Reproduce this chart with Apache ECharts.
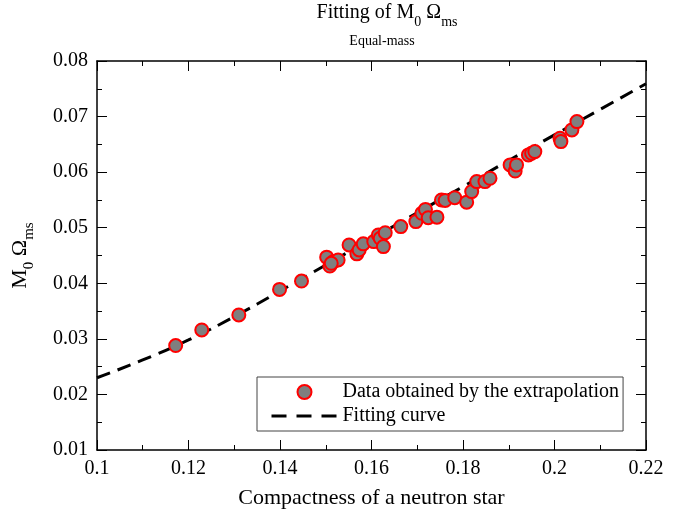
<!DOCTYPE html>
<html><head><meta charset="utf-8">
<script src="https://cdn.jsdelivr.net/npm/echarts@6/dist/echarts.min.js"></script>
<style>html,body{margin:0;padding:0;background:#fff}#c{width:694px;height:516px}</style>
</head><body><div id="c"></div>
<script>
// Data
const dataX = [0.1172,0.1229,0.1310,0.1399,0.1447,0.1502,0.1509,0.1517,0.1527,0.1512,0.1551,0.1568,0.1573,0.1582,0.1605,0.1615,0.1619,0.1630,0.1626,0.1664,0.1697,0.1710,0.1718,0.1724,0.1743,0.1753,0.1761,0.1782,0.1808,0.1819,0.1830,0.1848,0.1859,0.1903,0.1914,0.1917,0.1943,0.1950,0.1957,0.2012,0.2014,0.2038,0.2049];
const dataY = [0.0288,0.0316,0.0343,0.0389,0.0404,0.0447,0.0431,0.0439,0.0442,0.0436,0.0469,0.0453,0.0460,0.0471,0.0475,0.0487,0.0481,0.0491,0.0466,0.0502,0.0511,0.0526,0.0533,0.0518,0.0519,0.0550,0.0549,0.0554,0.0546,0.0565,0.0583,0.0583,0.0589,0.0613,0.0602,0.0613,0.0631,0.0634,0.0637,0.0661,0.0655,0.0676,0.0691];
const fitX = [0.10,0.11,0.12,0.13,0.14,0.15,0.16,0.17,0.18,0.19,0.20,0.21,0.22];
const fitY = [0.0230,0.0262,0.0298,0.0340,0.0386,0.0433,0.0480,0.0527,0.0574,0.0621,0.0667,0.0713,0.0759];
const xRange = [0.1, 0.22, 0.02];
const yRange = [0.01, 0.08, 0.01];
const seriesNames = ['Data obtained by the extrapolation', 'Fitting curve'];

const FONT = '"Liberation Serif", "Times New Roman", serif';
const fmt = v => String(parseFloat(v.toFixed(4)));

function axisBase(range, showLabel, pos, split) {
  return {
    type: 'value', position: pos, min: range[0], max: range[1], interval: range[2],
    axisLine: { show: true, onZero: false, lineStyle: { color: '#000', width: 1.5 } },
    axisTick: { show: true, inside: true, length: 10, lineStyle: { color: '#000', width: 1 } },
    minorTick: { show: true, splitNumber: split, length: 5, lineStyle: { color: '#000', width: 1 } },
    splitLine: { show: false }, minorSplitLine: { show: false },
    axisLabel: { show: showLabel, formatter: fmt, color: '#000', fontFamily: FONT, fontSize: 20, margin: 9 }
  };
}

const chart = echarts.init(document.getElementById('c'), null, { renderer: 'canvas' });
const xb = axisBase(xRange, true, 'bottom', 2);
xb.name = 'Compactness of a neutron star';
xb.nameLocation = 'middle'; xb.nameGap = 37;
xb.nameTextStyle = { color: '#000', fontFamily: FONT, fontSize: 22 };
const yl = axisBase(yRange, true, 'left', 2);
yl.name = '{n|M}{s|0}{n| Ω}{s|ms}';
yl.nameLocation = 'middle'; yl.nameGap = 60; yl.nameRotate = 90;
yl.nameTextStyle = { color: '#000', fontFamily: FONT, rich: {
  n: { fontFamily: FONT, fontSize: 22, color: '#000', verticalAlign: 'bottom', padding: [0,0,6,0] },
  s: { fontFamily: FONT, fontSize: 15, color: '#000', verticalAlign: 'bottom' } } };

chart.setOption({
  animation: false,
  backgroundColor: '#fff',
  grid: { left: 97, right: 48, top: 61, bottom: 66, containLabel: false },
  xAxis: [xb, axisBase(xRange, false, 'top', 2)],
  yAxis: [yl, axisBase(yRange, false, 'right', 2)],
  legend: {
    orient: 'vertical', left: 257, top: 377,
    padding: [5, 4, 5, 13], itemGap: 4, itemWidth: 66, itemHeight: 14,
    borderColor: '#444', borderWidth: 1,
    textStyle: { color: '#000', fontFamily: FONT, fontSize: 20 },
    data: [ { name: seriesNames[0], icon: 'circle' },
            { name: seriesNames[1], itemStyle: { opacity: 0 }, lineStyle: { color: '#000', width: 3, type: [15, 10], opacity: 1 } } ]
  },
  graphic: [
    { type: 'text', x: 387, y: 16, style: { text: '{n|Fitting of M}{s|0}{n| Ω}{s|ms}', align: 'center', verticalAlign: 'middle',
      rich: { n: { fontFamily: FONT, fontSize: 20, fill: '#000', verticalAlign: 'bottom', padding: [0,0,6,0] },
              s: { fontFamily: FONT, fontSize: 14, fill: '#000', verticalAlign: 'bottom' } } } },
    { type: 'text', x: 382, y: 41, style: { text: 'Equal-mass', align: 'center', verticalAlign: 'middle', fontFamily: FONT, fontSize: 14, fill: '#000' } }
  ],
  series: [
    { name: seriesNames[1], type: 'line', xAxisIndex: 0, yAxisIndex: 0, symbol: 'none', smooth: true, z: 2,
      lineStyle: { color: '#000', width: 3, type: [14, 8] }, itemStyle: { color: '#000' },
      data: fitX.map((x, i) => [x, fitY[i]]) },
    { name: seriesNames[0], type: 'scatter', xAxisIndex: 0, yAxisIndex: 0, symbol: 'circle', symbolSize: 13, z: 3,
      itemStyle: { color: '#7f7f7f', borderColor: '#ff0000', borderWidth: 2, opacity: 1 },
      data: dataX.map((x, i) => [x, dataY[i]]) }
  ]
});
</script></body></html>
